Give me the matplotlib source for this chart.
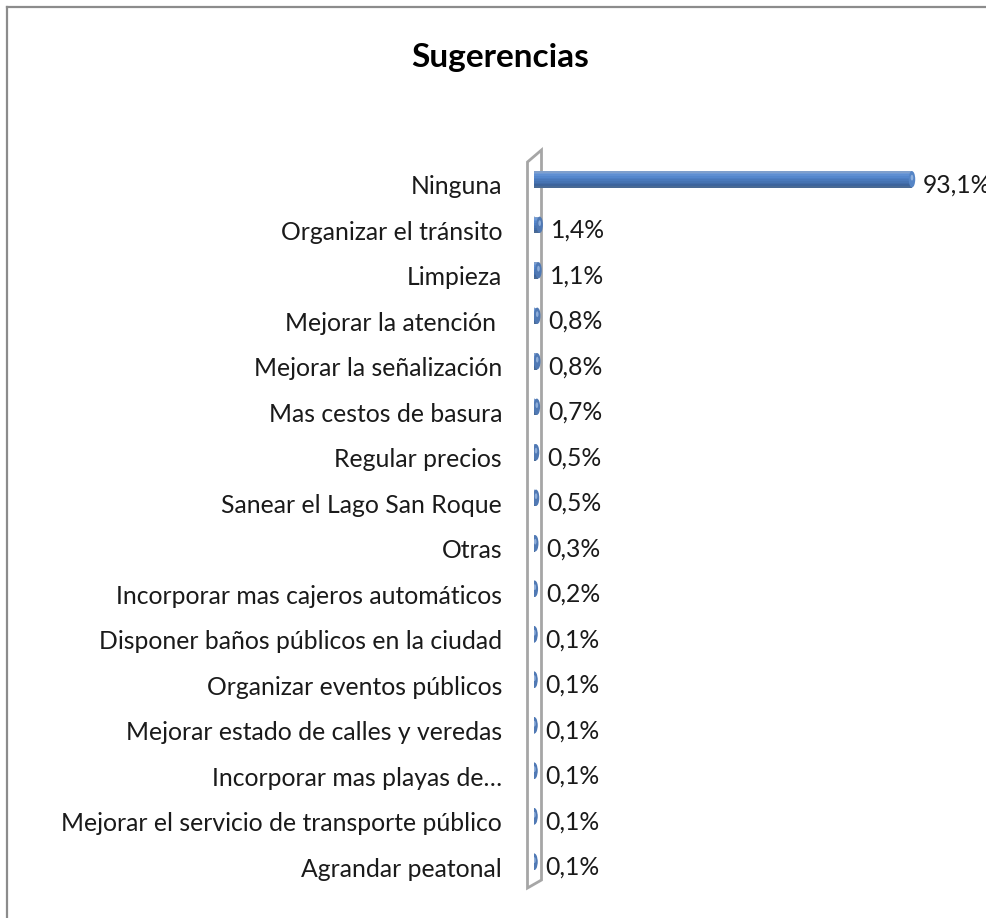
import matplotlib
matplotlib.use("Agg")
import matplotlib.pyplot as plt
from matplotlib.patches import Ellipse, Polygon
from matplotlib.lines import Line2D
import matplotlib.transforms as mtransforms

categories = [
    "Ninguna",
    "Organizar el tránsito",
    "Limpieza",
    "Mejorar la atención ",
    "Mejorar la señalización",
    "Mas cestos de basura",
    "Regular precios",
    "Sanear el Lago San Roque",
    "Otras",
    "Incorporar mas cajeros automáticos",
    "Disponer baños públicos en la ciudad",
    "Organizar eventos públicos",
    "Mejorar estado de calles y veredas",
    "Incorporar mas playas de…",
    "Mejorar el servicio de transporte público",
    "Agrandar peatonal",
]
values = [93.1, 1.4, 1.1, 0.8, 0.8, 0.7, 0.5, 0.5, 0.3, 0.2, 0.1, 0.1, 0.1, 0.1, 0.1, 0.1]
value_labels = ["93,1%", "1,4%", "1,1%", "0,8%", "0,8%", "0,7%", "0,5%", "0,5%",
                "0,3%", "0,2%", "0,1%", "0,1%", "0,1%", "0,1%", "0,1%", "0,1%"]
title = "Sugerencias"

FONT = "Lato"
plt.rcParams["font.family"] = [FONT, "DejaVu Sans"]

W, H = 987, 918
fig = plt.figure(figsize=(W / 100, H / 100), dpi=100)
fig.patch.set_facecolor("white")

x0_px, xmax_px = 534.0, 940.0
top_px, bot_px = 162, 890
ax = fig.add_axes([x0_px / W, 1 - bot_px / H, (xmax_px - x0_px) / W, (bot_px - top_px) / H])
ax.set_xlim(0, 100)
n = len(categories)
ax.set_ylim(n - 0.5, -0.5)
ax.set_facecolor("none")
for s in ax.spines.values():
    s.set_visible(False)
ax.set_xticks([])
ax.set_yticks(range(n))
ax.set_yticklabels(categories, fontsize=17.8, color="#1a1a1a")
ax.tick_params(axis="y", length=0, pad=23)

# 3D wall behind the bars
trans = mtransforms.blended_transform_factory(ax.transData, ax.transAxes)
ppu = (xmax_px - x0_px) / 100.0
wl, wr = (527.5 - x0_px) / ppu, (541.5 - x0_px) / ppu
hh = bot_px - top_px
wall = Polygon([(wl, 1.0), (wr, 1 + 12 / hh), (wr, (bot_px - 880) / hh), (wl, (bot_px - 888) / hh)],
               closed=True, facecolor="white", edgecolor="#a6a6a6", linewidth=2.0,
               transform=trans, clip_on=False, zorder=1)
ax.add_patch(wall)

grad = ["#7f9fcc", "#6f9ad6", "#5f8fd2", "#5587cc", "#4e7fc4", "#4a79bb",
        "#4673b2", "#426ca8", "#3d649c", "#4a6a94"]
bh = 0.36
cap_w = 6.5 / ppu
off = -0.12
ns = len(grad)
for i, v in enumerate(values):
    y = i + off
    top = y - bh / 2
    for k, c in enumerate(grad):
        ax.barh(top + (k + 0.5) * bh / ns, v, height=bh / ns * 1.05, color=c,
                edgecolor="none", zorder=3)
    ax.add_patch(Ellipse((0, y), cap_w, bh, facecolor="#4a79bb", edgecolor="none", zorder=2.9))
    ax.add_patch(Ellipse((v, y), cap_w, bh, facecolor="#5585c6" if v > 5 else "#5079b4",
                         edgecolor="none", zorder=3.3))
    ax.add_patch(Ellipse((v, y - bh * 0.1), cap_w * 0.4, bh * 0.35,
                         facecolor="#a8c4ea", edgecolor="none", zorder=3.4, alpha=0.7))
    ax.annotate(value_labels[i], xy=(v, i), xytext=(8, 0), textcoords="offset points",
                ha="left", va="center", fontsize=17.8, color="#1a1a1a",
                annotation_clip=False, zorder=4)

fig.text(500 / W, 1 - 57 / H, title, ha="center", va="center", fontsize=24, fontweight="bold", color="black")

# outer frame (left and top visible)
fig.add_artist(Line2D([7 / W, 7 / W], [0, 1 - 7 / H], transform=fig.transFigure, color="#8c8c8c", linewidth=1.6))
fig.add_artist(Line2D([7 / W, 1], [1 - 7 / H, 1 - 7 / H], transform=fig.transFigure, color="#8c8c8c", linewidth=1.6))

fig.savefig("out.png", dpi=100)
